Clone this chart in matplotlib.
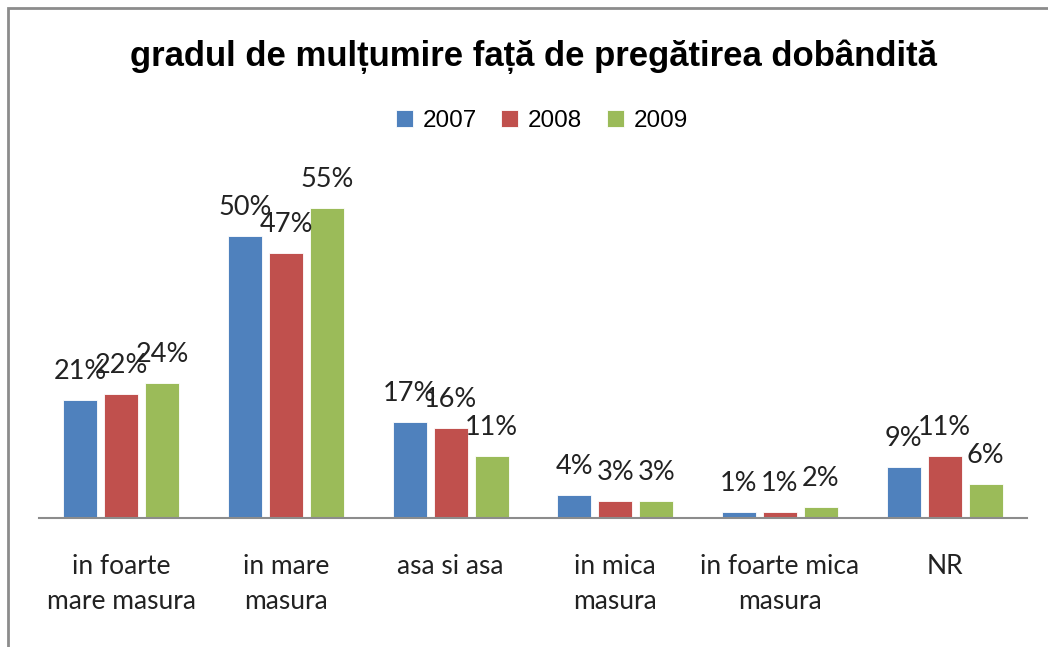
import numpy as np
import matplotlib.pyplot as plt
from matplotlib.patches import Rectangle

categories = ["in foarte\nmare masura", "in mare\nmasura", "asa si asa",
              "in mica\nmasura", "in foarte mica\nmasura", "NR"]
years = ["2007", "2008", "2009"]
v2007 = [21, 50, 17, 4, 1, 9]
v2008 = [22, 47, 16, 3, 1, 11]
v2009 = [24, 55, 11, 3, 2, 6]
colors = ["#4F81BD", "#C0504D", "#9BBB59"]

fig = plt.figure(figsize=(10.48, 6.47), dpi=100)
ax = fig.add_axes([0.0372, 0.1994, 0.9428, 0.5224])

x = np.arange(len(categories))
w = 0.206
step = 0.249
for i, (vals, c, lab) in enumerate(zip([v2007, v2008, v2009], colors, years)):
    pos = x + (i - 1) * step
    ax.bar(pos, vals, width=w, color=c, edgecolor="white", linewidth=0.6, label=lab)
    for xp, v in zip(pos, vals):
        ax.annotate(f"{v}%", (xp, v), xytext=(0, 21), textcoords="offset pixels",
                    ha="center", va="baseline", fontsize=19.5, family="Lato", color="#222222")

ax.set_xlim(-0.5, len(categories) - 0.5)
ax.set_ylim(0, 60)
ax.set_yticks([])
ax.set_xticks(x)
ax.set_xticklabels(categories, fontsize=19, family="Lato", color="#222222", linespacing=1.52)
ax.tick_params(axis="x", length=0, pad=26)
for s in ["left", "right", "top"]:
    ax.spines[s].set_visible(False)
ax.spines["bottom"].set_color("#8C8C8C")
ax.spines["bottom"].set_linewidth(1.5)

fig.text(0.509, 0.912, "gradul de mulțumire față de pregătirea dobândită",
         ha="center", va="center", fontsize=25, fontweight="bold", family="Liberation Sans")
fig.legend(loc="center", bbox_to_anchor=(0.517, 0.813), ncol=3, frameon=False,
           prop={"family": "Liberation Sans", "size": 17.5}, handlelength=0.7,
           handleheight=0.7, handletextpad=0.4, columnspacing=1.0)

fig.patches.append(Rectangle((8 / 1048, -0.1), 1.2, (647 - 8) / 647 + 0.1,
                             transform=fig.transFigure, fill=False,
                             edgecolor="#8C8C8C", linewidth=2, clip_on=False))

fig.savefig("out.png", dpi=100)
